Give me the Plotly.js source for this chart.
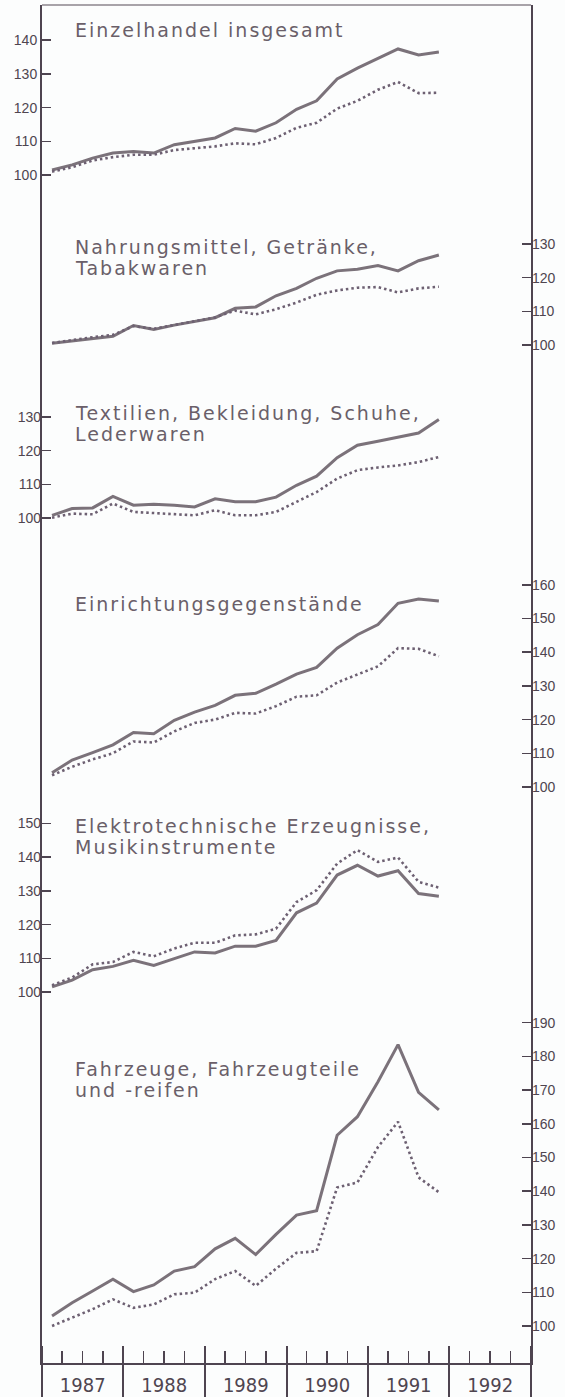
<!DOCTYPE html>
<html>
<head>
<meta charset="utf-8">
<script src="https://cdn.plot.ly/plotly-3.0.1.min.js"></script>
<style>
	html, body { margin: 0; padding: 0; background: #fcfdfd; }
	#chart { width: 565px; height: 1397px; }
	/* the print uses a wide-set lettering for the panel titles */
	#chart .annotation-text { letter-spacing: 2px; }
</style>
</head>
<body>
<div id="chart"></div>
<script>
(function(){

	'use strict';

	// quarterly observations, 1987 Q1 - 1991 Q4 (mid-quarter dates)
	const quarters = [
		'1987-02-15', '1987-05-16', '1987-08-16', '1987-11-15',
		'1988-02-15', '1988-05-16', '1988-08-16', '1988-11-15',
		'1989-02-15', '1989-05-16', '1989-08-16', '1989-11-15',
		'1990-02-15', '1990-05-16', '1990-08-16', '1990-11-15',
		'1991-02-15', '1991-05-16', '1991-08-16', '1991-11-15',
	];

	// year boundaries (dividers under the axis) 
	const yearEdges = ['1987-01-01', '1988-01-01', '1989-01-01', '1990-01-01', '1991-01-01', '1992-01-01', '1993-01-01'];

	// panel titles, one entry per line
	const titles = [
		['Einzelhandel insgesamt'],
		['Nahrungsmittel, Getränke,', 'Tabakwaren'],
		['Textilien, Bekleidung, Schuhe,', 'Lederwaren'],
		['Einrichtungsgegenstände'],
		['Elektrotechnische Erzeugnisse,', 'Musikinstrumente'],
		['Fahrzeuge, Fahrzeugteile', 'und -reifen'],
	];

	// solid = continuous line, dotted = dotted line (index 1987 Q1 ≈ 100)
	const einzelSolid  = [101.5, 103, 105, 106.5, 107, 106.5, 109, 110, 111, 113.8, 113, 115.5, 119.5, 122, 128.5, 131.7, 134.6, 137.4, 135.6, 136.5];
	const einzelDotted = [101, 102.3, 104.3, 105.3, 106, 106, 107.4, 108, 108.5, 109.4, 109.1, 111, 114, 115.5, 119.7, 122, 125.3, 127.6, 124.3, 124.4];

	const nahrungSolid  = [100.5, 101.2, 101.9, 102.6, 105.8, 104.6, 105.9, 106.9, 108.1, 110.9, 111.3, 114.6, 116.8, 119.8, 122, 122.5, 123.6, 122, 125, 126.7];
	const nahrungDotted = [100.6, 101.5, 102.3, 103, 105.6, 104.8, 106, 107.2, 108.2, 110.2, 109.1, 110.6, 112.6, 114.9, 116.2, 117, 117.2, 115.6, 116.8, 117.3];

	const textilSolid  = [100.8, 102.8, 103, 106.4, 103.8, 104.1, 103.8, 103.3, 105.7, 104.8, 104.8, 106.2, 109.7, 112.4, 117.9, 121.6, 122.8, 123.9, 125.2, 129.2];
	const textilDotted = [100.1, 101.3, 101.1, 104.3, 101.8, 101.5, 101.3, 100.8, 102.3, 100.8, 100.8, 101.8, 104.8, 107.7, 111.7, 114.2, 115, 115.6, 116.6, 118.1];

	const einrichtSolid  = [104.2, 108, 110.2, 112.5, 116.2, 115.8, 119.8, 122.2, 124.2, 127.2, 127.8, 130.5, 133.5, 135.5, 141.2, 145.2, 148.2, 154.5, 155.8, 155.2];
	const einrichtDotted = [103.5, 106, 108.2, 110, 113.5, 113.2, 116.5, 119, 120, 122, 121.8, 124, 126.8, 127.2, 131, 133.5, 135.8, 141.2, 141, 138.8];

	const elektroSolid  = [101.5, 103.5, 106.6, 107.6, 109.4, 107.9, 109.9, 111.9, 111.6, 113.6, 113.6, 115.3, 123.5, 126.4, 134.7, 137.6, 134.4, 136, 129.2, 128.4];
	const elektroDotted = [102, 104.3, 108.2, 108.9, 111.9, 110.6, 112.9, 114.6, 114.6, 116.8, 117.1, 118.8, 126.7, 130.2, 138.1, 142.1, 138.6, 139.9, 132.7, 131];

	const fahrzeugSolid  = [103, 106.9, 110.4, 113.9, 110.2, 112.2, 116.3, 117.6, 122.9, 126, 121.2, 127.2, 132.9, 134.2, 156.6, 162.1, 172.5, 183.5, 169.3, 164.1];
	const fahrzeugDotted = [100, 102.5, 105, 107.9, 105.4, 106.4, 109.4, 109.9, 113.9, 116.3, 111.9, 117, 121.7, 122.2, 141.1, 142.6, 153.1, 160.6, 144.1, 139.7];

	// y tick labels for each panel
	const yTicks = [
		[100, 110, 120, 130, 140],
		[100, 110, 120, 130],
		[100, 110, 120, 130],
		[100, 110, 120, 130, 140, 150, 160],
		[100, 110, 120, 130, 140, 150],
		[100, 110, 120, 130, 140, 150, 160, 170, 180, 190],
	];

	const series = [
		[ einzelSolid, einzelDotted ],
		[ nahrungSolid, nahrungDotted ],
		[ textilSolid, textilDotted ],
		[ einrichtSolid, einrichtDotted ],
		[ elektroSolid, elektroDotted ],
		[ fahrzeugSolid, fahrzeugDotted ],
	];

	/*
	Layout (pixels): plot frame from top 5 to bottom 1363,
	every panel shares one vertical scale, only the "100" line moves
	*/
	const W = 565, H = 1397;
	const M = { l: 42, r: 34, t: 5, b: 34 };
	const PLOT_TOP = M.t, PLOT_BOTTOM = H - M.b;
	const PX_PER_UNIT = 3.37;
	const panelBase = [175, 345, 518, 787, 992, 1326];  // pixel y of the 100 level
	const titleY = [30, 247, 413, 604, 826, 1069];     // pixel y of first title line
	const TITLE_X = 73, LINE_GAP = 21;

	const frameColor = '#4e4450';
	const textColor = '#6a5f69';
	const solidColor = '#7b727a';
	const dottedColor = '#6d6072';
	const tickFamily = '"Liberation Sans", Arial, sans-serif';
	const yearFamily = '"Liberation Sans Narrow", "DejaVu Sans Condensed", sans-serif';
	const titleFamily = '"DejaVu Sans", sans-serif';

	const plotH = PLOT_BOTTOM - PLOT_TOP;
	const plotW = W - M.l - M.r;
	const pyToPaper = ( py ) => ( PLOT_BOTTOM - py ) / plotH;
	const pxToPaper = ( px ) => ( px - M.l ) / plotW;

	const axisId = ( i ) => i === 0 ? 'y' : 'y' + ( i + 1 );
	const axisKey = ( i ) => i === 0 ? 'yaxis' : 'yaxis' + ( i + 1 );

	/**
	* Traces
	*/
	const data = [];
	series.forEach(([ solid, dotted ], i ) => {
		data.push({
			x: quarters, y: solid, yaxis: axisId( i ),
			type: 'scatter', mode: 'lines',
			line: { color: solidColor, width: 3 },
			showlegend: false, hoverinfo: 'skip',
		});
		data.push({
			x: quarters, y: dotted, yaxis: axisId( i ),
			type: 'scatter', mode: 'lines',
			line: { color: dottedColor, width: 2.6, dash: '2.5px,3px' },
			showlegend: false, hoverinfo: 'skip',
		});
	});

	// empty helper trace so the divider axis (x2) gets drawn
	data.push({
		x: yearEdges, y: yearEdges.map(() => null),
		xaxis: 'x2', yaxis: 'y',
		type: 'scatter', mode: 'lines',
		showlegend: false, hoverinfo: 'skip',
	});

	/**
	* Layout
	*/
	const layout = {
		width: W, height: H,
		margin: M,
		paper_bgcolor: '#fcfdfd',
		plot_bgcolor: '#fcfdfd',
		showlegend: false,
		xaxis: {
			type: 'date',
			range: [ '1987-01-01', '1993-01-01' ],
			tick0: '1987-01-01',
			dtick: 'M12',
			tickformat: '%Y',
			ticklabelmode: 'period',
			ticks: 'inside', ticklen: 17, tickwidth: 2, tickcolor: frameColor,
			minor: { dtick: 'M3', ticks: 'inside', ticklen: 12, tickwidth: 1.5, tickcolor: frameColor },
			ticklabelstandoff: 3,
			tickfont: { family: yearFamily, size: 20, color: '#4f4550' },
			showline: true, linewidth: 2, linecolor: frameColor,
			showgrid: false, zeroline: false, fixedrange: true,
		},
		xaxis2: {
			type: 'date',
			overlaying: 'x', anchor: 'y', side: 'bottom',
			range: [ '1987-01-01', '1993-01-01' ],
			tickmode: 'array', tickvals: yearEdges,
			ticks: 'outside', ticklen: 34, tickwidth: 2, tickcolor: frameColor,
			showticklabels: false,
			showline: false, showgrid: false, zeroline: false, fixedrange: true,
		},
		shapes: [{
			type: 'line', xref: 'paper', yref: 'paper',
			x0: 0, x1: 1, y0: 1, y1: 1,
			line: { color: '#8d858c', width: 1.5 },
		}],
		annotations: [],
	};

	yTicks.forEach(( ticks, i ) => {
		const base = panelBase[i];
		const ax = {
			range: [ 100 - ( PLOT_BOTTOM - base ) / PX_PER_UNIT, 100 + ( base - PLOT_TOP ) / PX_PER_UNIT ],
			side: i % 2 ? 'right' : 'left',
			tickmode: 'array', tickvals: ticks,
			ticks: 'inside', ticklen: 9, tickwidth: 1.5, tickcolor: frameColor,
			tickfont: { family: tickFamily, size: 14, color: '#4f4550' },
			showgrid: false, zeroline: false, showline: false, fixedrange: true,
		};
		if( i === 0 ){
			ax.showline = true;
			ax.mirror = true;
			ax.linewidth = 2;
			ax.linecolor = frameColor;
		} else {
			ax.overlaying = 'y';
			ax.anchor = 'x';
		}
		layout[ axisKey( i ) ] = ax;
	});

	// panel titles
	titles.forEach(( lines, i ) => {
		lines.forEach(( text, j ) => {
			layout.annotations.push({
				text,
				xref: 'paper', yref: 'paper',
				x: pxToPaper( TITLE_X ),
				y: pyToPaper( titleY[i] + j * LINE_GAP ),
				xanchor: 'left', yanchor: 'middle', align: 'left',
				showarrow: false,
				font: { family: titleFamily, size: 19, color: textColor },
			});
		});
	});

	Plotly.newPlot( 'chart', data, layout, { displayModeBar: false, staticPlot: true });

})();
</script>
</body>
</html>
